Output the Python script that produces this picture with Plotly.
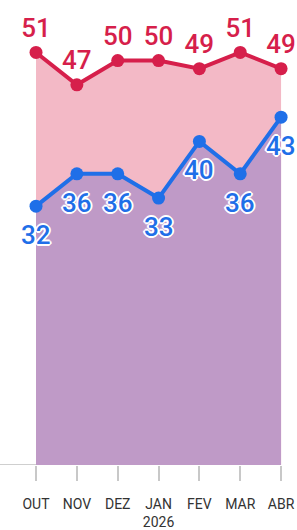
import plotly.graph_objects as go

months = ["OUT", "NOV", "DEZ", "JAN<br>2026", "FEV", "MAR", "ABR"]
red_vals = [51, 47, 50, 50, 49, 51, 49]
blue_vals = [32, 36, 36, 33, 40, 36, 43]

RED = "#d61f4b"
BLUE = "#1f6fe8"
PINK = "#f3b9c6"
PURPLE = "#bf9ac7"

x = list(range(len(months)))
outline = ("2px 0 0 white, -2px 0 0 white, 0 2px 0 white, 0 -2px 0 white, "
           "1px 1px 0 white, -1px -1px 0 white, 1px -1px 0 white, -1px 1px 0 white")

fig = go.Figure()
fig.add_trace(go.Scatter(
    x=x, y=red_vals, mode="lines+markers+text", fill="tozeroy", fillcolor=PINK,
    line=dict(color=RED, width=4), marker=dict(color=RED, size=13),
    text=[str(v) for v in red_vals], textposition="top center",
    textfont=dict(color=RED, size=26, family="Roboto", weight=500),
    cliponaxis=False, hoverinfo="skip"))
fig.add_trace(go.Scatter(
    x=x, y=blue_vals, mode="lines+markers", fill="tozeroy", fillcolor=PURPLE,
    line=dict(color=BLUE, width=4), marker=dict(color=BLUE, size=13),
    cliponaxis=False, hoverinfo="skip"))

for xi, v in zip(x, blue_vals):
    fig.add_annotation(x=xi, y=v, text=str(v), showarrow=False, yshift=-29,
                       xanchor="center", yanchor="middle",
                       font=dict(color=BLUE, size=26, family="Roboto", weight=500,
                                 shadow=outline))

fig.add_shape(type="line", xref="x", yref="y", x0=-0.9, x1=0, y0=0, y1=0,
              line=dict(color="#cfcfcf", width=2), layer="below")

fig.update_layout(
    width=297, height=530, margin=dict(l=0, r=0, t=12, b=55),
    paper_bgcolor="white", plot_bgcolor="white", showlegend=False,
    xaxis=dict(range=[-0.882, 6.39], tickvals=x, ticktext=months,
               showgrid=False, zeroline=False, showline=False,
               ticks="outside", ticklen=15, tickwidth=2, tickcolor="#c8c8c8",
               ticklabelstandoff=11,
               tickfont=dict(family="Roboto", size=14, color="#333333")),
    yaxis=dict(range=[0, 56], visible=False),
)
fig.write_html("out.html", config={"displayModeBar": False},
               post_script="document.body.style.margin='0';document.body.style.overflow='hidden';")
